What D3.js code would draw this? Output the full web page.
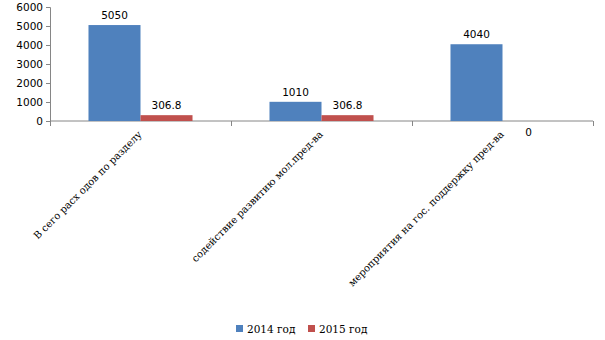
<!DOCTYPE html>
<html><head><meta charset="utf-8">
<script src="https://cdn.jsdelivr.net/npm/d3@7"></script>
<style>
body{margin:0;background:#fff;}
svg{display:block;}
</style></head>
<body>
<svg id="chart" width="605" height="340"></svg>
<script>
const categories = ["В сего расх одов по разделу", "содействие развитию мол.пред-ва", "мероприятия на гос. поддержку пред-ва"];
const seriesNames = ["2014 год", "2015 год"];
const values2014 = [5050, 1010, 4040];
const values2015 = [306.8, 306.8, 0];
const labels2014 = ["5050", "1010", "4040"];
const labels2015 = ["306.8", "306.8", "0"];
const yTicks = [0, 1000, 2000, 3000, 4000, 5000, 6000];
const colors = ["#4F81BD", "#C0504D"];

const svg = d3.select("#chart");
const plotLeft = 50, plotRight = 593, plotTop = 7, plotBottom = 121;

const x = d3.scaleBand().domain(categories).range([plotLeft, plotRight]).paddingInner(0).paddingOuter(0);
const xs = d3.scaleBand().domain(seriesNames).range([0, x.bandwidth()]).paddingInner(0).paddingOuter(0.74);
const y = d3.scaleLinear().domain([0, 6000]).range([plotBottom, plotTop]);

const axisColor = "#868686";

// y axis
const yAxis = svg.append("g").attr("transform", `translate(${plotLeft},0)`)
  .call(d3.axisLeft(y).tickValues(yTicks).tickSize(4).tickPadding(3).tickFormat(d3.format("d")));
yAxis.select(".domain").attr("stroke", axisColor);
yAxis.selectAll(".tick line").attr("stroke", axisColor);
yAxis.selectAll(".tick text").attr("fill", "#000").style("font-family", "DejaVu Sans").style("font-size", "10.5px");

// x axis with ticks at category boundaries
const xAxisG = svg.append("g").attr("transform", `translate(0,${plotBottom})`);
xAxisG.append("line").attr("x1", plotLeft).attr("x2", plotRight).attr("stroke", axisColor);
const bounds = categories.map(c => x(c)).concat([x(categories[categories.length - 1]) + x.bandwidth()]);
xAxisG.selectAll("line.tk").data(bounds).join("line").attr("class", "tk")
  .attr("x1", d => d + 0.5).attr("x2", d => d + 0.5).attr("y1", 0).attr("y2", 5).attr("stroke", axisColor);

// bars
const series = [values2014, values2015];
const seriesLabels = [labels2014, labels2015];
series.forEach((vals, si) => {
  const g = svg.append("g");
  g.selectAll("rect").data(categories).join("rect")
    .attr("x", (c) => x(c) + xs(seriesNames[si]))
    .attr("width", xs.bandwidth())
    .attr("y", (c, i) => y(vals[i]))
    .attr("height", (c, i) => y(0) - y(vals[i]))
    .attr("fill", colors[si]);
  g.selectAll("text").data(categories).join("text")
    .attr("x", c => x(c) + xs(seriesNames[si]) + xs.bandwidth() / 2)
    .attr("y", (c, i) => vals[i] === 0 ? y(0) + 15 : y(vals[i]) - 6)
    .attr("text-anchor", "middle")
    .style("font-family", "DejaVu Sans").style("font-size", "10.5px")
    .text((c, i) => seriesLabels[si][i]);
});

// rotated category labels
svg.append("g").selectAll("text").data(categories).join("text")
  .attr("transform", c => `translate(${x(c) + x.bandwidth() / 2 + 2},${plotBottom + 14}) rotate(-45)`)
  .attr("text-anchor", "end")
  .style("font-family", "DejaVu Serif").style("font-size", "10px")
  .text(c => c);

// legend
const legend = svg.append("g");
const legendItems = [{x: 236, name: seriesNames[0], color: colors[0]}, {x: 308, name: seriesNames[1], color: colors[1]}];
legendItems.forEach(it => {
  legend.append("rect").attr("x", it.x).attr("y", 325).attr("width", 7).attr("height", 7).attr("fill", it.color);
  legend.append("text").attr("x", it.x + 11).attr("y", 332.5)
    .style("font-family", "DejaVu Serif").style("font-size", "10.5px").text(it.name);
});
</script>
</body></html>
